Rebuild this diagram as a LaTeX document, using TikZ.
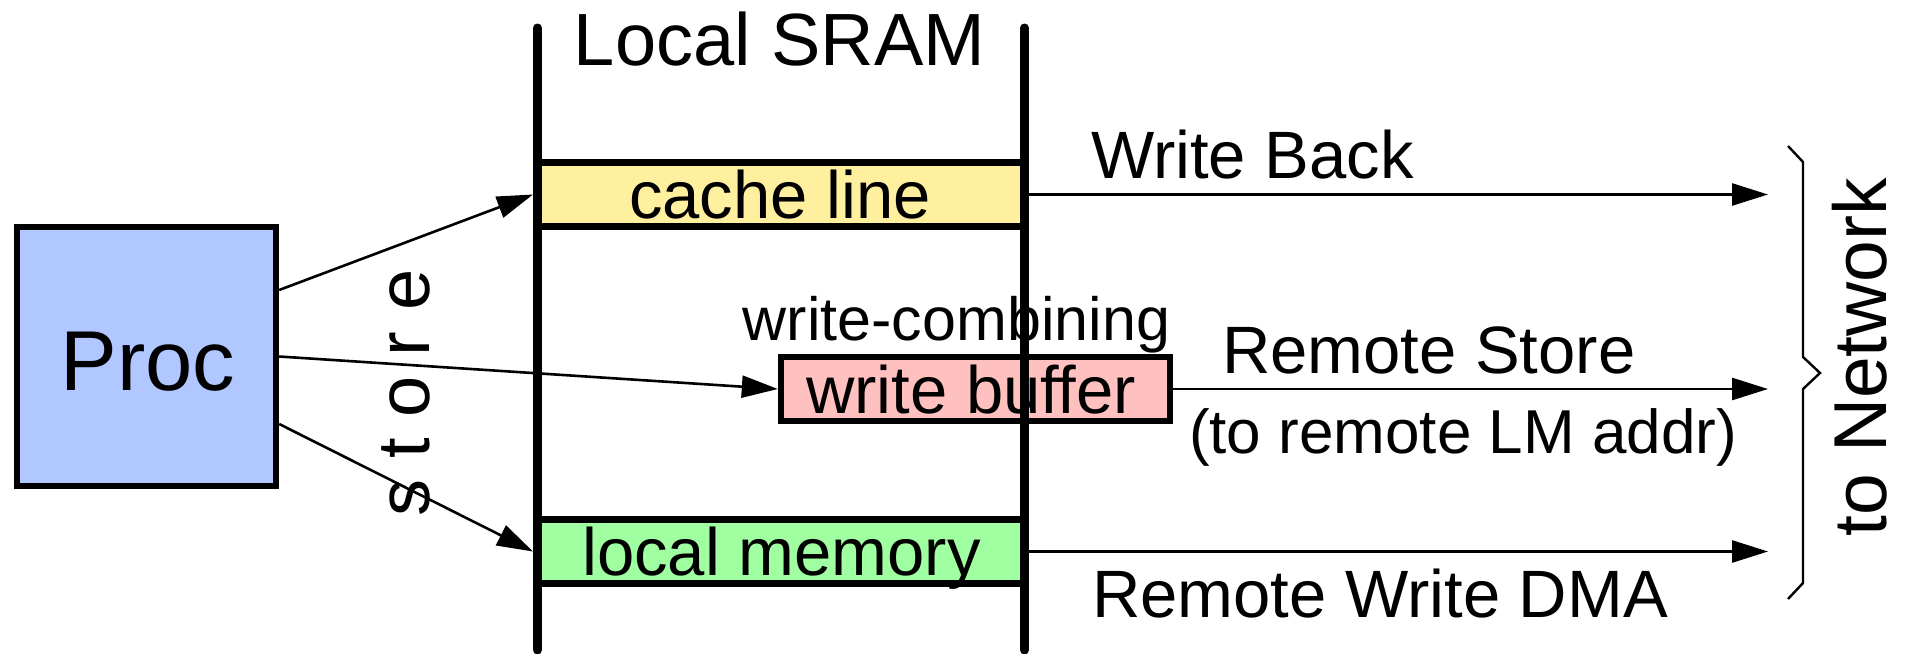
\documentclass[tikz,border=0pt]{standalone}
\usepackage{fontspec}
\setmainfont{Liberation Sans}
\usetikzlibrary{arrows.meta}
\definecolor{procblue}{RGB}{176,200,255}
\definecolor{cacheyellow}{RGB}{255,240,160}
\definecolor{bufpink}{RGB}{255,192,192}
\definecolor{memgreen}{RGB}{160,255,160}
\begin{document}
\begin{tikzpicture}[x=0.5pt,y=-0.5pt,
  rail/.style={line width=4.5pt,line cap=round},
  band/.style={rectangle,inner sep=0pt,outer sep=0pt,minimum width=248pt,minimum height=32pt},
  bandedge/.style={line width=3.2pt},
  flow/.style={line width=1.3pt,-{Triangle[length=18pt,width=11pt]}},
  lbl/.style={inner sep=0pt,outer sep=0pt,anchor=base},
  big/.style={font=\fontsize{33.5}{40}\selectfont},
  mid/.style={font=\fontsize{30.5}{37}\selectfont},
  bracepath/.style={line width=1.2pt,line join=miter}
]
\useasboundingbox (0,0) rectangle (1905,653);

% processor
\node[rectangle,draw,line width=3.2pt,fill=procblue,minimum width=129.5pt,minimum height=129.5pt,
      inner sep=0pt] (proc) at (146.5,356.5) {};
\node[lbl,font=\fontsize{42.5}{50}\selectfont] (proctext) at (148,390) {Proc};

% SRAM bands
\node[band,fill=cacheyellow] (cache) at (781,194.5) {};
\node[band,fill=memgreen] (lmem) at (781,551.5) {};
\node[rectangle,draw,line width=3.2pt,fill=bufpink,minimum width=194.5pt,minimum height=32pt,
      inner sep=0pt] (wbuf) at (975.5,389) {};
\draw[bandedge] (cache.north west) -- (cache.north east);
\draw[bandedge] (cache.south west) -- (cache.south east);
\draw[bandedge] (lmem.north west) -- (lmem.north east);
\draw[bandedge] (lmem.south west) -- (lmem.south east);

% labels
\node[lbl,font=\fontsize{37}{44}\selectfont] (sram) at (779.5,65) {Local SRAM};
\node[lbl,big] (cachetext) at (780,218) {cache line};
\node[lbl,big] (lmemtext) at (781.5,575) {local memory};
\node[lbl,big,anchor=base west] (wbuftext) at (806,413) {write buffer};
\node[lbl,mid,anchor=base east] (wcomb) at (1170,340) {write-combining};
\node[lbl,big,anchor=base west] (wbacktext) at (1091,178) {Write Back};
\node[lbl,big,anchor=base west] (rstoretext) at (1222,373) {Remote Store};
\node[lbl,font=\fontsize{31}{37}\selectfont,anchor=base west] (raddrtext) at (1189,453) {(to remote LM addr)};
\node[lbl,big,anchor=base west] (rdmatext) at (1092,617) {Remote Write DMA};
\node[lbl,rotate=90,font=\fontsize{37}{44}\selectfont] (storetext) at (429,393) {s t o r e};
\node[lbl,rotate=90,font=\fontsize{37.5}{44}\selectfont] (nettext) at (1886,357) {to Network};

% stores from the processor
\draw[flow] ([yshift=33.25pt]proc.east) -- (cache.west);
\draw[flow] (proc.east) -- (wbuf.west);
\draw[flow] ([yshift=-33.75pt]proc.east) -- (lmem.west);

% traffic towards the network
\coordinate (wbend) at (1768,194.5);
\coordinate (rsend) at (1768,389);
\coordinate (dmaend) at (1768,551.5);
\draw[flow] (cache.east) -- (wbend);
\draw[flow] (wbuf.east) -- (rsend);
\draw[flow] (lmem.east) -- (dmaend);

% brace
\coordinate (bt) at (1788,146);
\coordinate (bb) at (1788,599);
\draw[bracepath] (bt) -- (1803,162) -- (1803,357) -- (1820,373) -- (1803,389) -- (1803,583) -- (bb);

% SRAM walls
\coordinate (lt) at (537.5,28);
\coordinate (lb) at (537.5,650);
\coordinate (rt) at (1024.5,28);
\coordinate (rb) at (1024.5,650);
\draw[rail] (lt) -- (lb);
\draw[rail] (rt) -- (rb);
\end{tikzpicture}
\end{document}
